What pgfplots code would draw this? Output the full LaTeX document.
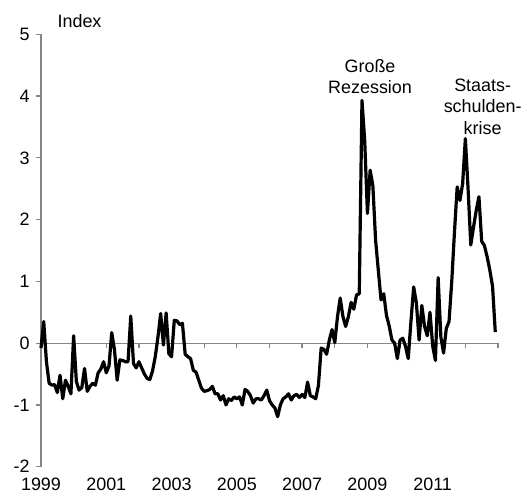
\documentclass[border=0pt]{standalone}
\usepackage{fontspec}
\setmainfont{Liberation Sans}
\usepackage{pgfplots}
\pgfplotsset{compat=1.18}
\usepackage{pgfplotstable}

\definecolor{axgray}{RGB}{134,134,134}

% monthly index, m = 0 is Jan 1999
\pgfplotstableread{
m v
0 -0.08
1 0.35
2 -0.30
3 -0.65
4 -0.68
5 -0.67
6 -0.80
7 -0.52
8 -0.90
9 -0.60
10 -0.70
11 -0.82
12 0.12
13 -0.62
14 -0.76
15 -0.72
16 -0.41
17 -0.78
18 -0.70
19 -0.65
20 -0.68
21 -0.48
22 -0.42
23 -0.30
24 -0.48
25 -0.37
26 0.17
27 -0.10
28 -0.60
29 -0.27
30 -0.28
31 -0.30
32 -0.30
33 0.44
34 -0.33
35 -0.40
36 -0.30
37 -0.40
38 -0.50
39 -0.57
40 -0.59
41 -0.45
42 -0.22
43 0.10
44 0.48
45 -0.03
46 0.49
47 -0.17
48 -0.22
49 0.37
50 0.36
51 0.30
52 0.32
53 -0.18
54 -0.22
55 -0.25
56 -0.44
57 -0.47
58 -0.60
59 -0.73
60 -0.78
61 -0.77
62 -0.75
63 -0.70
64 -0.82
65 -0.82
66 -0.92
67 -0.85
68 -1.00
69 -0.90
70 -0.93
71 -0.87
72 -0.90
73 -0.87
74 -1.00
75 -0.75
76 -0.78
77 -0.85
78 -0.97
79 -0.90
80 -0.90
81 -0.92
82 -0.85
83 -0.76
84 -0.93
85 -1.00
86 -1.05
87 -1.19
88 -1.00
89 -0.90
90 -0.87
91 -0.82
92 -0.92
93 -0.85
94 -0.83
95 -0.88
96 -0.83
97 -0.88
98 -0.63
99 -0.85
100 -0.87
101 -0.90
102 -0.68
103 -0.08
104 -0.10
105 -0.18
106 0.05
107 0.22
108 0.01
109 0.43
110 0.73
111 0.43
112 0.27
113 0.43
114 0.66
115 0.55
116 0.78
117 0.80
118 3.93
119 3.28
120 2.10
121 2.80
122 2.55
123 1.67
124 1.18
125 0.70
126 0.80
127 0.45
128 0.28
129 0.05
130 0.00
131 -0.25
132 0.05
133 0.08
134 -0.05
135 -0.25
136 0.35
137 0.91
138 0.65
139 0.05
140 0.61
141 0.27
142 0.12
143 0.50
144 -0.05
145 -0.28
146 1.06
147 0.10
148 -0.16
149 0.24
150 0.35
151 1.00
152 1.80
153 2.53
154 2.31
155 2.58
156 3.31
157 2.50
158 1.59
159 1.88
160 2.15
161 2.37
162 1.65
163 1.58
164 1.40
165 1.18
166 0.92
167 0.18
}\indexdata

\begin{document}
\begin{tikzpicture}[font=\fontsize{18}{21.5}\selectfont]
\begin{axis}[
  name=ax,
  scale only axis,
  width=457bp, height=432.4bp,
  xmin=1999, xmax=2013,
  ymin=-2, ymax=5,
  axis x line*=middle,
  axis y line*=left,
  hide obscured x ticks=false,
  axis line style={axgray, line width=1.3bp},
  every tick/.style={axgray, line width=1.3bp},
  tick align=outside,
  major tick length=5bp,
  xtick={1999,...,2013},
  xticklabels={1999,,2001,,2003,,2005,,2007,,2009,,2011,,},
  ytick={-2,...,5},
  yticklabels={-2,-1,0,1,2,3,4,5},
  tick label style={font=\fontsize{18}{21.5}\selectfont, black},
  xticklabel style={anchor=north, yshift=-126bp},
  yticklabel style={anchor=east, xshift=-3bp},
  clip=false,
]
\addplot[black, line width=3.2bp, line join=round]
  table[x expr=1999+\thisrow{m}/12, y=v] {\indexdata};

\node[anchor=west] at (axis cs:1999.4,5) [yshift=13bp] {Index};
\node[align=center] at (axis cs:2009.08,4.32) {Große\\Rezession};
\node[align=center] at (axis cs:2012.53,3.83) {Staats-\\schulden-\\krise};
\end{axis}
\pgfresetboundingbox
\path ([xshift=-41bp,yshift=-31.3bp]ax.south west) rectangle ([xshift=27bp,yshift=34.3bp]ax.north east);
\end{tikzpicture}
\end{document}
